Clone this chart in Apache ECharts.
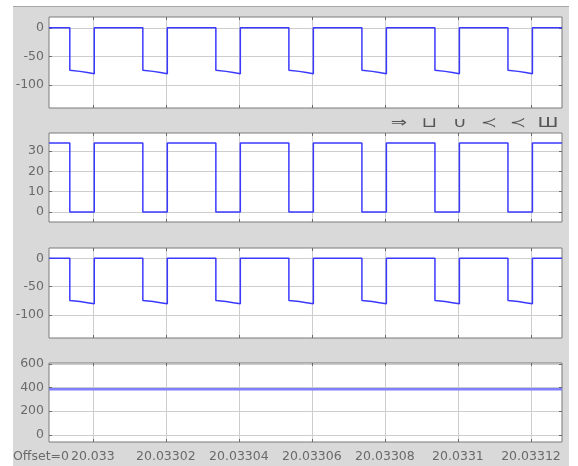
<!DOCTYPE html>
<html>
<head>
<meta charset="utf-8">
<script src="https://cdn.jsdelivr.net/npm/echarts@6/dist/echarts.min.js"></script>
<style>
html,body{margin:0;padding:0;background:#fff;}
#c{width:578px;height:466px;}
</style>
</head>
<body>
<div id="c"></div>
<script>
// x values are microseconds after t = 20.033 s
const xTickValues = [0, 20, 40, 60, 80, 100, 120];
const xTickLabels = ['20.033', '20.03302', '20.03304', '20.03306', '20.03308', '20.0331', '20.03312'];
const xRange = [-12, 128.5];

const sig1 = [
  [-12,0],[-6.3,0],[-6.3,-74],[-3.5,-76],[-1.5,-78],[0.4,-80],[0.4,0],
  [13.7,0],[13.7,-74],[16.5,-76],[18.5,-78],[20.4,-80],[20.4,0],
  [33.7,0],[33.7,-74],[36.5,-76],[38.5,-78],[40.4,-80],[40.4,0],
  [53.7,0],[53.7,-74],[56.5,-76],[58.5,-78],[60.4,-80],[60.4,0],
  [73.7,0],[73.7,-74],[76.5,-76],[78.5,-78],[80.4,-80],[80.4,0],
  [93.7,0],[93.7,-74],[96.5,-76],[98.5,-78],[100.4,-80],[100.4,0],
  [113.7,0],[113.7,-74],[116.5,-76],[118.5,-78],[120.4,-80],[120.4,0],
  [128.5,0]
];
const sig2 = [
  [-12,34],[-6.3,34],[-6.3,0],[0.4,0],[0.4,34],
  [13.7,34],[13.7,0],[20.4,0],[20.4,34],
  [33.7,34],[33.7,0],[40.4,0],[40.4,34],
  [53.7,34],[53.7,0],[60.4,0],[60.4,34],
  [73.7,34],[73.7,0],[80.4,0],[80.4,34],
  [93.7,34],[93.7,0],[100.4,0],[100.4,34],
  [113.7,34],[113.7,0],[120.4,0],[120.4,34],
  [128.5,34]
];
const sig3 = [
  [-12,0],[-6.3,0],[-6.3,-74],[-3.5,-76],[-1.5,-78],[0.4,-80],[0.4,0],
  [13.7,0],[13.7,-74],[16.5,-76],[18.5,-78],[20.4,-80],[20.4,0],
  [33.7,0],[33.7,-74],[36.5,-76],[38.5,-78],[40.4,-80],[40.4,0],
  [53.7,0],[53.7,-74],[56.5,-76],[58.5,-78],[60.4,-80],[60.4,0],
  [73.7,0],[73.7,-74],[76.5,-76],[78.5,-78],[80.4,-80],[80.4,0],
  [93.7,0],[93.7,-74],[96.5,-76],[98.5,-78],[100.4,-80],[100.4,0],
  [113.7,0],[113.7,-74],[116.5,-76],[118.5,-78],[120.4,-80],[120.4,0],
  [128.5,0]
];
const sig4 = [[-12,385],[128.5,385]];

const yTicks1 = [-100, -50, 0];
const yTicks2 = [0, 10, 20, 30];
const yTicks3 = [-100, -50, 0];
const yTicks4 = [0, 200, 400, 600];
const yRange1 = [-140, 19];
const yRange2 = [-5, 39];
const yRange3 = [-140, 18];
const yRange4 = [-60, 607];

const toolbarIcons = ['⇒', '⊔', '∪', '≺', '≺', 'Ш'];

const panels = [
  {top:17,  height:91, data:sig1, ticks:yTicks1, range:yRange1, color:'#3a3aff', w:1.5},
  {top:133, height:89, data:sig2, ticks:yTicks2, range:yRange2, color:'#3a3aff', w:1.5},
  {top:248, height:90, data:sig3, ticks:yTicks3, range:yRange3, color:'#3a3aff', w:1.5},
  {top:363, height:79, data:sig4, ticks:yTicks4, range:yRange4, color:'#8080ff', w:2.4}
];

const FONT = 'DejaVu Sans';
const LABEL = '#6a6a6a';
const TICK = '#6a6a6a';
const grids = [], xAxes = [], yAxes = [], series = [];
panels.forEach((p, i) => {
  grids.push({left:49, top:p.top, width:513, height:p.height, show:true,
    backgroundColor:'#ffffff', borderColor:'#7a7a7a', borderWidth:1, containLabel:false, outerBoundsMode:'none'});
  const last = i === panels.length - 1;
  xAxes.push({type:'value', gridIndex:i, position:'bottom', min:xRange[0], max:xRange[1],
    axisLine:{show:false, onZero:false},
    axisTick:{show:true, inside:true, length:3, lineStyle:{color:TICK}, customValues:xTickValues},
    axisLabel:{show:last, customValues:xTickValues, margin:8, color:LABEL, fontFamily:FONT, fontSize:12.5,
      formatter:(v)=>{const k=xTickValues.indexOf(Math.round(v)); return k>=0?xTickLabels[k]:'';}},
    splitLine:{show:true, lineStyle:{color:'#cdcdcd', width:1}}
  });
  xAxes.push({type:'value', gridIndex:i, position:'top', min:xRange[0], max:xRange[1],
    axisLine:{show:false, onZero:false},
    axisTick:{show:true, inside:true, length:3, lineStyle:{color:TICK}, customValues:xTickValues},
    axisLabel:{show:false}, splitLine:{show:false}
  });
  yAxes.push({type:'value', gridIndex:i, position:'left', min:p.range[0], max:p.range[1],
    axisLine:{show:false, onZero:false},
    axisTick:{show:true, inside:true, length:3, lineStyle:{color:TICK}, customValues:p.ticks},
    axisLabel:{show:true, customValues:p.ticks, margin:5, color:LABEL, fontFamily:FONT, fontSize:12.5},
    splitLine:{show:true, lineStyle:{color:'#cdcdcd', width:1}}
  });
  yAxes.push({type:'value', gridIndex:i, position:'right', min:p.range[0], max:p.range[1],
    axisLine:{show:false, onZero:false},
    axisTick:{show:true, inside:true, length:3, lineStyle:{color:TICK}, customValues:p.ticks},
    axisLabel:{show:false}, splitLine:{show:false}
  });
  series.push({type:'line', xAxisIndex:2*i, yAxisIndex:2*i, data:p.data, showSymbol:false,
    symbol:'none', clip:true, lineStyle:{color:p.color, width:p.w}, animation:false, z:3});
});

const iconX = [399, 429, 460, 489, 518, 548];
const graphics = [
  {type:'rect', z:-10, shape:{x:13, y:6, width:556, height:460}, style:{fill:'#d9d9d9'}, silent:true},
  {type:'line', z:-9, shape:{x1:13, y1:6.5, x2:569, y2:6.5}, style:{stroke:'#a6a6a6', lineWidth:1}, silent:true},
  {type:'text', z:10, left:13, top:450, style:{text:'Offset=0', fill:LABEL, font:'12.5px "DejaVu Sans"'}}
];
toolbarIcons.forEach((t, k) => {
  graphics.push({type:'text', z:10, x:iconX[k], y:123, scaleX:1.4,
    style:{text:t, fill:'#555555', font:'14px "DejaVu Sans"', align:'center', verticalAlign:'middle'}});
});

const chart = echarts.init(document.getElementById('c'), null, {renderer:'canvas'});
chart.setOption({
  animation:false,
  backgroundColor:'#ffffff',
  grid:grids, xAxis:xAxes, yAxis:yAxes, series:series,
  graphic:graphics
});
</script>
</body>
</html>
